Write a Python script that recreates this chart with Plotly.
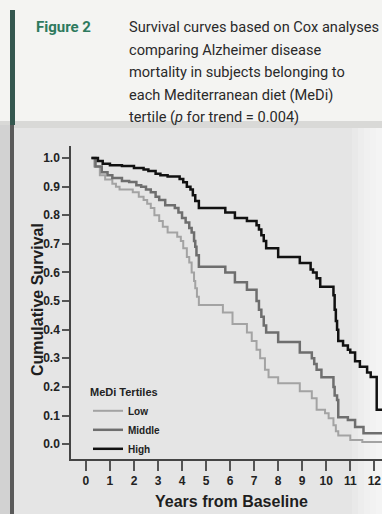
import plotly.graph_objects as go

# ---------------- data ----------------
years_low = [0.23, 0.35, 0.58, 0.8, 1.1, 1.25, 1.4, 1.95, 2.2, 2.4, 2.55, 2.7, 2.85, 3.05, 3.2, 3.4,
             3.8, 3.95, 4.05, 4.2, 4.3, 4.4, 4.5, 4.55, 4.62, 4.7, 5.7, 6.1, 6.7, 6.9, 7.1, 7.25,
             7.45, 7.6, 8.0, 8.9, 9.4, 9.6, 9.95, 10.1, 10.3, 10.4, 10.5, 11.0, 11.5, 12.35]
surv_low = [1.0, 0.97, 0.94, 0.925, 0.91, 0.90, 0.89, 0.88, 0.865, 0.853, 0.84, 0.825, 0.80, 0.78, 0.76, 0.74,
            0.725, 0.71, 0.685, 0.654, 0.635, 0.60, 0.57, 0.545, 0.515, 0.486, 0.46, 0.42, 0.39, 0.36, 0.33, 0.30,
            0.26, 0.234, 0.213, 0.185, 0.16, 0.12, 0.108, 0.09, 0.066, 0.045, 0.03, 0.014, 0.007, 0.007]

years_mid = [0.23, 0.4, 0.66, 0.9, 1.1, 1.5, 1.8, 2.1, 2.3, 2.5, 2.7, 2.9, 3.05, 3.3, 3.7, 3.85, 4.0,
             4.15, 4.3, 4.4, 4.5, 4.55, 4.6, 4.7, 5.8, 6.2, 6.7, 7.1, 7.2, 7.3, 7.4, 7.5, 8.0, 8.9,
             9.4, 9.5, 9.6, 9.8, 10.3, 10.35, 10.45, 10.5, 10.9, 11.2, 11.55, 12.35]
surv_mid = [1.0, 0.97, 0.95, 0.94, 0.93, 0.92, 0.916, 0.905, 0.90, 0.89, 0.88, 0.865, 0.853, 0.835, 0.825, 0.81, 0.79,
            0.775, 0.755, 0.74, 0.71, 0.69, 0.66, 0.62, 0.60, 0.566, 0.54, 0.50, 0.47, 0.445, 0.415, 0.39, 0.357, 0.32,
            0.30, 0.28, 0.26, 0.234, 0.20, 0.17, 0.154, 0.094, 0.084, 0.06, 0.038, 0.038]

years_high = [0.23, 0.5, 0.7, 1.0, 1.5, 2.0, 2.4, 2.6, 2.9, 3.1, 3.4, 3.9, 4.05, 4.2, 4.35, 4.45, 4.55,
              4.7, 5.8, 6.2, 6.7, 7.1, 7.2, 7.3, 7.4, 7.5, 8.0, 8.9, 9.35, 9.45, 9.6, 9.75, 10.3,
              10.35, 10.4, 10.45, 10.5, 10.7, 10.9, 11.0, 11.2, 11.4, 11.7, 11.85, 12.1, 12.35]
surv_high = [1.0, 0.99, 0.98, 0.975, 0.972, 0.965, 0.96, 0.955, 0.945, 0.94, 0.935, 0.927, 0.915, 0.90, 0.89, 0.87, 0.85,
             0.825, 0.81, 0.79, 0.78, 0.765, 0.75, 0.73, 0.71, 0.685, 0.654, 0.633, 0.61, 0.60, 0.58, 0.55, 0.52,
             0.47, 0.43, 0.40, 0.36, 0.345, 0.33, 0.32, 0.29, 0.27, 0.25, 0.235, 0.12, 0.12]

series_names = ["Low", "Middle", "High"]
series_colors = ["#a3a3a3", "#6e6e6e", "#111111"]
series_widths = [2, 2.5, 2.5]

y_ticks = [0.0, 0.1, 0.2, 0.3, 0.4, 0.5, 0.6, 0.7, 0.8, 0.9, 1.0]
x_ticks = list(range(0, 13))

title_left = "Figure 2"
title_lines = [
    "Survival curves based on Cox analyses",
    "comparing Alzheimer disease",
    "mortality in subjects belonging to",
    "each Mediterranean diet (MeDi)",
    "tertile (<i>p</i> for trend = 0.004)",
]

# ---------------- layout geometry ----------------
W, H = 382, 514
L, R, T, B = 71, 382, 146, 459  # plot area in pixels
SANS = "Arial, Liberation Sans, sans-serif"


def px(x):
    return (x - L) / (R - L)


def py(y):
    return (B - y) / (B - T)


fig = go.Figure()
for xs, ys, name, col, w in zip([years_low, years_mid, years_high],
                                [surv_low, surv_mid, surv_high],
                                series_names, series_colors, series_widths):
    fig.add_trace(go.Scatter(x=xs, y=ys, mode="lines", name=name,
                             line=dict(color=col, width=w, shape="hv")))

shapes = []
# header panel
shapes.append(dict(type="rect", xref="paper", yref="paper", x0=px(0), x1=px(W), y0=py(123), y1=py(0),
                   fillcolor="#f4f4f2", line=dict(width=0), layer="below"))
shapes.append(dict(type="rect", xref="paper", yref="paper", x0=px(0), x1=px(W), y0=py(128), y1=py(121),
                   fillcolor="#d9d9d7", line=dict(width=0), layer="below"))
# left page edge
shapes.append(dict(type="rect", xref="paper", yref="paper", x0=px(0), x1=px(10), y0=py(H + 200), y1=py(125),
                   fillcolor="#d2d2d2", line=dict(width=0), layer="below"))
shapes.append(dict(type="rect", xref="paper", yref="paper", x0=px(10), x1=px(15), y0=py(125), y1=py(10),
                   fillcolor="#35574f", line=dict(width=0), layer="below"))
shapes.append(dict(type="rect", xref="paper", yref="paper", x0=px(10), x1=px(14), y0=py(H), y1=py(125),
                   fillcolor="#5a5a5a", line=dict(width=0), layer="below"))
# right side brightening
for i in range(5):
    x0 = 352 + i * 6
    shapes.append(dict(type="rect", xref="paper", yref="paper", x0=px(x0), x1=px(W), y0=py(H), y1=py(128),
                       fillcolor="white", opacity=0.18, line=dict(width=0), layer="below"))

annotations = []
annotations.append(dict(text="<b>" + title_left + "</b>", xref="paper", yref="paper", x=px(34), y=py(27),
                        xanchor="left", yanchor="middle", showarrow=False,
                        font=dict(family="Roboto", size=15, color="#2e7a5e")))
for i, line in enumerate(title_lines):
    annotations.append(dict(text=line, xref="paper", yref="paper", x=px(127), y=py(27 + 22.5 * i),
                            xanchor="left", yanchor="middle", showarrow=False,
                            font=dict(family="Roboto", size=14.6, color="#2a2a2a")))
annotations.append(dict(text="<b>Years from Baseline</b>", xref="paper", yref="paper", x=px(231), y=py(501),
                        xanchor="center", yanchor="middle", showarrow=False,
                        font=dict(family=SANS, size=16, color="#1e1e1e")))
annotations.append(dict(text="<b>Cumulative Survival</b>", xref="paper", yref="paper", x=px(37), y=py(300),
                        xanchor="center", yanchor="middle", showarrow=False, textangle=-90,
                        font=dict(family=SANS, size=16, color="#1e1e1e")))

fig.update_layout(
    width=W, height=H,
    margin=dict(l=L, r=W - R, t=T, b=H - B, pad=0),
    paper_bgcolor="#e5e5e5",
    plot_bgcolor="rgba(0,0,0,0)",
    shapes=shapes,
    annotations=annotations,
    showlegend=True,
    legend=dict(
        x=px(88), y=py(382), xanchor="left", yanchor="top",
        bgcolor="rgba(0,0,0,0)", borderwidth=0,
        title=dict(text="<b>MeDi Tertiles</b>", font=dict(family=SANS, size=11, color="#222")),
        font=dict(family=SANS, size=10, color="#222", weight="bold"),
        itemwidth=30, tracegroupgap=0,
    ),
    font=dict(family=SANS),
)
fig.update_xaxes(range=[-0.62, 12.32], tickvals=x_ticks, ticktext=["<b>%d</b>" % v for v in x_ticks],
                 showgrid=False, zeroline=False, showline=True, linecolor="#444", linewidth=1.5,
                 ticks="outside", ticklen=10, tickwidth=1.5, tickcolor="#555",
                 tickfont=dict(family=SANS, size=12, color="#222"), automargin=False)
fig.update_yaxes(range=[-0.052, 1.042], tickvals=y_ticks, ticktext=["<b>%.1f</b>" % v for v in y_ticks],
                 showgrid=False, zeroline=False, showline=True, linecolor="#444", linewidth=1.5,
                 ticks="outside", ticklen=7, tickwidth=1.5, tickcolor="#555",
                 tickfont=dict(family=SANS, size=12, color="#222"), automargin=False)

fig.write_html("out.html")
